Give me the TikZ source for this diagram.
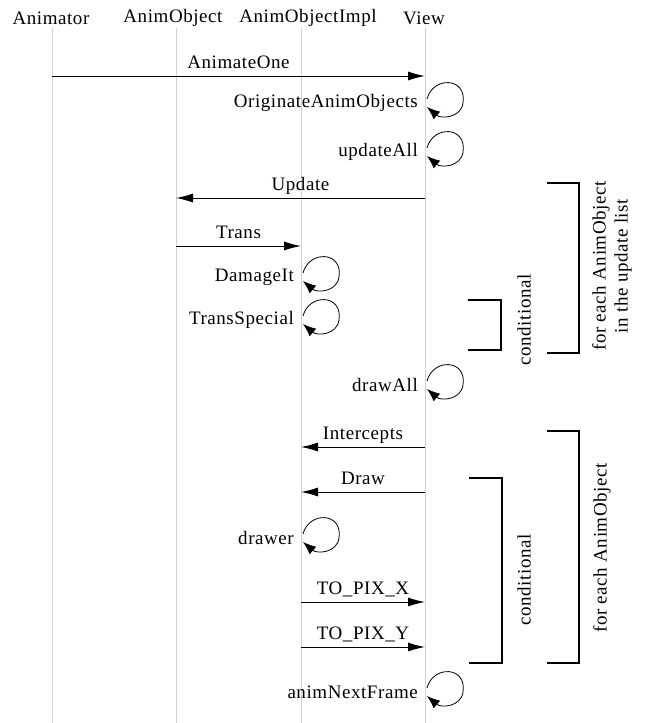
\documentclass[tikz,border=0pt]{standalone}
\usepackage{fontspec}
\setmainfont[LetterSpace=3]{Liberation Serif}
\usetikzlibrary{arrows.meta, calc}

\tikzset{
  every node/.style={font=\fontsize{19}{22}\selectfont, inner sep=0pt},
  lifeline/.style={draw=black!18, line width=1pt},
  msg/.style={-{Latex[length=17pt,width=9pt]}, line width=1pt},
  selfmsg/.style={-{Latex[length=13pt,width=10pt]}, line width=0.8pt},
  msglabel/.style={midway, anchor=base, yshift=8pt},
  selflabel/.style={anchor=east, xshift=-7pt},
  bracket/.style={line width=1.1pt},
}

\begin{document}
\begin{tikzpicture}[x=1pt, y=-1pt]
	\useasboundingbox (0,0) rectangle (647,723);

	% heads of the lifelines
	\node (animator) at (51,18) {Animator};
	\node (animobj) at (173,18) {AnimObject};
	\node (animimpl) at (308,18) {AnimObjectImpl};
	\node (view) at (424,18) {View};

	\coordinate (animatorT) at (52,28);  \coordinate (animatorB) at (52,723);
	\coordinate (animobjT) at (176,28);  \coordinate (animobjB) at (176,723);
	\coordinate (animimplT) at (301,28); \coordinate (animimplB) at (301,723);
	\coordinate (viewT) at (425,28);     \coordinate (viewB) at (425,723);

	\draw[lifeline] (animatorT) -- (animatorB);
	\draw[lifeline] (animobjT) -- (animobjB);
	\draw[lifeline] (animimplT) -- (animimplB);
	\draw[lifeline] (viewT) -- (viewB);

	% messages
	\coordinate (m1a) at (52,76);   \coordinate (m1b) at (425,76);
	\coordinate (m2a) at (425,198); \coordinate (m2b) at (176,198);
	\coordinate (m3a) at (176,246); \coordinate (m3b) at (301,246);
	\coordinate (m4a) at (425,447); \coordinate (m4b) at (301,447);
	\coordinate (m5a) at (425,492); \coordinate (m5b) at (301,492);
	\coordinate (m6a) at (301,602); \coordinate (m6b) at (425,602);
	\coordinate (m7a) at (301,647); \coordinate (m7b) at (425,647);

	\draw[msg] (m1a) -- node[msglabel] (animateone) {AnimateOne} (m1b);
	\draw[msg] (m2a) -- node[msglabel] (update) {Update} (m2b);
	\draw[msg] (m3a) -- node[msglabel] (trans) {Trans} (m3b);
	\draw[msg] (m4a) -- node[msglabel] (intercepts) {Intercepts} (m4b);
	\draw[msg] (m5a) -- node[msglabel] (draw) {Draw} (m5b);
	\draw[msg] (m6a) -- node[msglabel] (topixx) {TO\_PIX\_X} (m6b);
	\draw[msg] (m7a) -- node[msglabel] (topixy) {TO\_PIX\_Y} (m7b);

	% calls to self
	\coordinate (s1) at (425,103);
	\coordinate (s2) at (425,152);
	\coordinate (s3) at (301,277);
	\coordinate (s4) at (301,320);
	\coordinate (s5) at (425,385);
	\coordinate (s6) at (301,538);
	\coordinate (s7) at (425,692);

	\node[selflabel] (originate) at (s1) {OriginateAnimObjects};
	\node[selflabel] (updateall) at (s2) {updateAll};
	\node[selflabel] (damageit) at (s3) {DamageIt};
	\node[selflabel] (transspecial) at (s4) {TransSpecial};
	\node[selflabel] (drawall) at (s5) {drawAll};
	\node[selflabel] (drawer) at (s6) {drawer};
	\node[selflabel] (animnext) at (s7) {animNextFrame};

	\foreach \s in {s1,s2,s3,s4,s5,s6,s7}
		\draw[selfmsg] ($(\s)+(2,-4)$) .. controls ($(\s)+(8,-27)$) and ($(\s)+(42,-26)$) .. ($(\s)+(38,0)$)
			.. controls ($(\s)+(36,15)$) and ($(\s)+(16,16)$) .. ($(\s)+(2,4)$);

	% brackets
	\draw[bracket] (547,183) -- (579,183) -- (579,353) -- (547,353);
	\draw[bracket] (468,300) -- (501,300) -- (501,350) -- (468,350);
	\draw[bracket] (547,431) -- (579,431) -- (579,663) -- (547,663);
	\draw[bracket] (469,478) -- (502,478) -- (502,663) -- (469,663);

	\node[rotate=90, align=center] (foreachupd) at (612,266) {for each AnimObject\\in the update list};
	\node[rotate=90] (cond1) at (524,320) {conditional};
	\node[rotate=90] (foreachobj) at (602,548) {for each AnimObject};
	\node[rotate=90] (cond2) at (524,580) {conditional};

\end{tikzpicture}
\end{document}
